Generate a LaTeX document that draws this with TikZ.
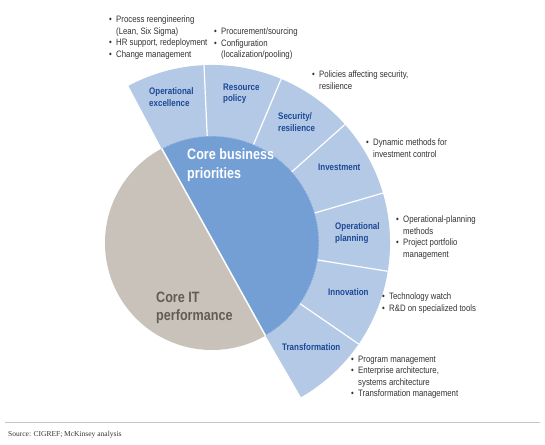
\documentclass[tikz,border=0pt]{standalone}
\usepackage{fontspec}
\usepackage{graphicx}
\setmainfont[FakeStretch=0.84]{Liberation Sans}
\newfontfamily\srcfont{Liberation Serif}
\definecolor{ringblue}{RGB}{180,201,230}
\definecolor{coreblue}{RGB}{116,159,212}
\definecolor{coregray}{RGB}{201,194,186}
\definecolor{labelblue}{RGB}{28,72,150}
\definecolor{itgray}{RGB}{98,92,86}
\definecolor{notetext}{RGB}{50,50,50}
\newcommand{\bl}{\makebox[7pt][l]{\textbullet}}
\newcommand{\ind}{\hspace*{7pt}}
\begin{document}
\begin{tikzpicture}[x=1pt,y=1pt,
        every node/.style={inner sep=0pt},
        seglabel/.style={anchor=north west, align=left, text=labelblue, font=\fontsize{9.5}{11.5}\selectfont\bfseries},
        notes/.style={anchor=north west, align=left, text=notetext, font=\fontsize{9.3}{11.5}\selectfont},
        divider/.style={white, line width=1.2pt}]
        \useasboundingbox (0,0) rectangle (545,444);
        \coordinate (O) at (212,201);
        \fill [ringblue] (O) -- ++(118:178pt) arc [start angle=118, end angle=-60, radius=178pt] -- cycle;
        \fill [coreblue] (O) ++(-60:107pt) arc [start angle=-60, end angle=118, radius=107pt] -- cycle;
        \fill [coregray] (O) ++(118:107pt) arc [start angle=118, end angle=300, radius=107pt] -- cycle;
        \draw [ringblue, line width=1.2pt, dash pattern=on 0.7pt off 0.9pt] (O) ++(-60:107pt) arc [start angle=-60, end angle=118, radius=107pt];
        \path (O) ++(118:107pt) coordinate (chordtop);
        \path (O) ++(-60:107pt) coordinate (chordbot);
        \draw [divider, line width=1.5pt] (chordtop) -- (chordbot);
        \draw [divider] (O) ++(92.57:107pt) -- ++(92.57:71pt);
        \draw [divider] (O) ++(67.14:107pt) -- ++(67.14:71pt);
        \draw [divider] (O) ++(41.71:107pt) -- ++(41.71:71pt);
        \draw [divider] (O) ++(16.29:107pt) -- ++(16.29:71pt);
        \draw [divider] (O) ++(-9.14:107pt) -- ++(-9.14:71pt);
        \draw [divider] (O) ++(-34.57:107pt) -- ++(-34.57:71pt);
        \node [anchor=north west, align=left, text=white, font=\fontsize{15}{19}\selectfont\bfseries] (core) at (187,296) {Core business\\priorities};
        \node [anchor=north west, align=left, text=itgray, font=\fontsize{15}{18}\selectfont\bfseries] (coreit) at (156,152) {Core IT\\performance};
        \node [seglabel] (opex) at (149,356.5) {Operational\\excellence};
        \node [seglabel] (respol) at (223,360.4) {Resource\\policy};
        \node [seglabel] (secres) at (278,331.4) {Security/\\resilience};
        \node [seglabel] (invest) at (318,280.4) {Investment};
        \node [seglabel] (opplan) at (335,221.4) {Operational\\planning};
        \node [seglabel] (innov) at (328,155.4) {Innovation};
        \node [seglabel] (transf) at (282,100.4) {Transformation};
        \node [notes] (opexnotes) at (109,428.2) {\bl Process reengineering\\\ind(Lean, Six Sigma)\\\bl HR support, redeployment\\\bl Change management};
        \node [notes] (respolnotes) at (214,416.2) {\bl Procurement/sourcing\\\bl Configuration\\\ind(localization/pooling)};
        \node [notes] (secresnotes) at (312,373.2) {\bl Policies affecting security,\\\ind resilience};
        \node [notes] (investnotes) at (366,305.2) {\bl Dynamic methods for\\\ind investment control};
        \node [notes] (opplannotes) at (396,228.2) {\bl Operational-planning\\\ind methods\\\bl Project portfolio\\\ind management};
        \node [notes] (innovnotes) at (382,151.2) {\bl Technology watch\\\bl R\&D on specialized tools};
        \node [notes] (transfnotes) at (351,88.2) {\bl Program management\\\bl Enterprise architecture,\\\ind systems architecture\\\bl Transformation management};
        \coordinate (ruleL) at (5,22);
        \coordinate (ruleR) at (540,22);
        \draw [black!22, line width=0.8pt] (ruleL) -- (ruleR);
        \node [anchor=base west, text=black!80, font={\srcfont\fontsize{7.5}{9}\selectfont}] (source) at (8,8) {Source: CIGREF; McKinsey analysis};
\end{tikzpicture}
\end{document}
